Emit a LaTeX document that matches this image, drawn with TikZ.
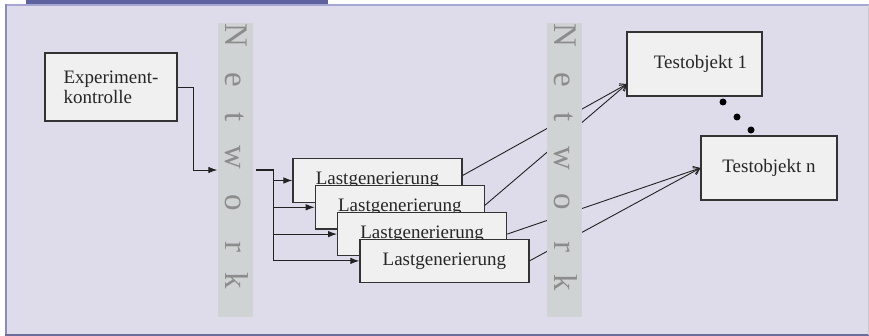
\documentclass[tikz,border=0pt]{standalone}
\usepackage{fontspec}
\setmainfont{Liberation Serif}
\usetikzlibrary{arrows.meta,calc}
\definecolor{tabblue}{HTML}{5E63A0}
\definecolor{bgl}{HTML}{DEDCEA}
\definecolor{topline}{HTML}{A6A6D2}
\definecolor{leftline}{HTML}{8B8BBD}
\definecolor{botline}{HTML}{6B6B9C}
\definecolor{barcol}{HTML}{D0D3D3}
\definecolor{lettercol}{HTML}{8C8C8C}
\definecolor{boxfill}{HTML}{F0F0F0}
\definecolor{boxline}{HTML}{333333}
\definecolor{linecol}{HTML}{222222}
\tikzset{
  boxnode/.style={draw=boxline, fill=boxfill, line width=1.2pt, inner sep=0pt,
    font=\fontsize{19}{20}\selectfont, text=black!85},
  lgbox/.style={boxnode, minimum width=169pt, minimum height=43.5pt},
  tobox/.style={boxnode, minimum width=135pt, minimum height=64pt},
  netbar/.style={fill=barcol, draw=none, minimum width=35pt, minimum height=294pt, inner sep=0pt},
  netletter/.style={rotate=-90, anchor=base, text=lettercol, inner sep=0pt,
    font=\fontsize{33}{33}\selectfont},
  conn/.style={draw=linecol, line width=0.9pt},
  brarrow/.style={conn, -{Latex[length=9pt,width=6.5pt]}},
  diagarrow/.style={conn, -{Straight Barb[length=6pt,width=8pt]}},
  dotc/.style={fill=black, draw=none, circle, minimum size=7pt, inner sep=0pt}
}
\begin{document}
\begin{tikzpicture}[x=1pt,y=-1pt]
\useasboundingbox (0,0) rectangle (869,336);
% frame
\fill[white] (0,0) rectangle (869,336);
\fill[tabblue] (26,0) rectangle (328,4.5);
\fill[bgl] (5,4.5) rectangle (869,336);
\draw[topline, line width=1.5pt] (5,5.2) -- (869,5.2);
\draw[leftline, line width=2pt] (6,4.5) -- (6,336);
\draw[botline, line width=1.5pt] (5,335.2) -- (869,335.2);
\draw[black!20, line width=0.8pt] (868.6,5) -- (868.6,335);

% left network bar
\node[netbar] (net1) at (235,170) {};
\foreach \ch/\yy in {N/35,e/80,t/117,w/157,o/203,r/247,k/281}
  \node[netletter] at (225,\yy) {\ch};

% experiment control
\node[boxnode, minimum width=132pt, minimum height=68pt, align=left] (exp) at (111,87)
  {Experiment-\\kontrolle};
\coordinate (c1) at (193,87);
\draw[brarrow] (exp.east) -- (c1) |- (net1.west);

% load generators
\node[lgbox] (lg1) at (377.5,180.5) {Lastgenerierung};
\node[lgbox] (lg2) at (399.8,207.3) {Lastgenerierung};
\node[lgbox] (lg3) at (422.1,234.1) {Lastgenerierung};
\node[lgbox] (lg4) at (444.4,260.9) {Lastgenerierung};

\coordinate (o1) at (256,170);
\coordinate (o2) at (273.5,170);
\draw[conn, line width=1.6pt] (o1) -- (o2);
\draw[conn] (o2) -- (o2 |- lg4.west);
\draw[brarrow] (o2 |- lg1.west) -- (lg1.west);
\draw[brarrow] (o2 |- lg2.west) -- (lg2.west);
\draw[brarrow] (o2 |- lg3.west) -- (lg3.west);
\draw[brarrow] (o2 |- lg4.west) -- (lg4.west);

% test objects
\node[tobox] (t1) at (694.5,64) {\hspace*{12pt}Testobjekt 1};
\node[tobox, minimum width=136pt] (tn) at (769,168) {Testobjekt n};
\coordinate (t1in) at (627,84);

\draw[diagarrow] ($(lg1.east)+(0,-5)$) -- (t1in);
\draw[diagarrow] ($(lg2.east)+(0,-2)$) -- (t1in);
\draw[diagarrow] (lg3.east) -- (tn.west);
\draw[diagarrow] (lg4.east) -- (tn.west);

% right network bar (covers the lines)
\node[netbar] (net2) at (564.5,170) {};
\foreach \ch/\yy in {N/35,e/80,t/117,w/158,o/202,r/247,k/283}
  \node[netletter] at (554.5,\yy) {\ch};

% dots
\node[dotc] (d1) at (723,102) {};
\node[dotc] (d2) at (737,117) {};
\node[dotc] (d3) at (751,130) {};
\end{tikzpicture}
\end{document}
